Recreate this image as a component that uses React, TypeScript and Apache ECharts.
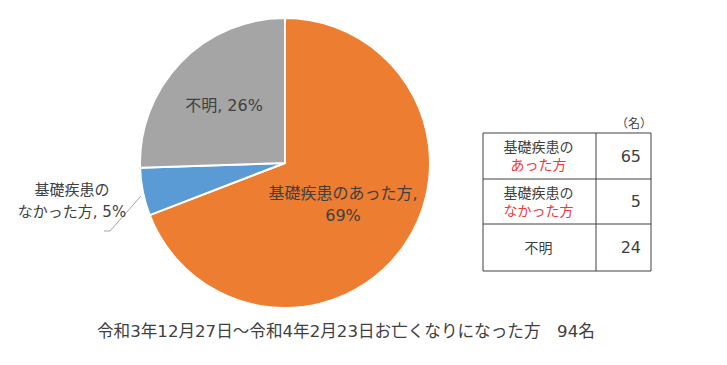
import React, { useEffect, useRef } from "react";
import * as echarts from "echarts";

const categories = ["基礎疾患のあった方", "基礎疾患のなかった方", "不明"];
const values = [65, 5, 24];
const colors = ["#ED7D31", "#5B9BD5", "#A5A5A5"];
const tableLine1 = ["基礎疾患の", "基礎疾患の", "不明"];
const tableLine2 = ["あった方", "なかった方", ""];
const unitLabel = "（名）";
const caption = "令和3年12月27日～令和4年2月23日お亡くなりになった方　94名";

const FONT = "'DejaVu Sans', 'Noto Sans CJK JP', sans-serif";
const TXT = "#404040";

export default function App() {
  const ref = useRef<HTMLDivElement>(null);
  useEffect(() => {
    document.body.style.margin = "0";
    const chart = echarts.init(ref.current!, null, { renderer: "svg" });

    const labelPos = [
      { x: 343, y: 204, size: 16 },
      { x: 72, y: 201, size: 15 },
      { x: 224, y: 105, size: 16 },
    ];

    // table
    const tL = 483, tR = 651, tM = 596, tT = 133;
    const rowYs = [133, 179, 224, 271];
    const graphics: any[] = [];
    const line = (x1: number, y1: number, x2: number, y2: number) => ({
      type: "line",
      shape: { x1, y1, x2, y2 },
      style: { stroke: "#404040", lineWidth: 1 },
    });
    rowYs.forEach((y) => graphics.push(line(tL, y, tR, y)));
    graphics.push(line(tL, tT, tL, rowYs[3]));
    graphics.push(line(tM, tT, tM, rowYs[3]));
    graphics.push(line(tR, tT, tR, rowYs[3]));
    graphics.push({
      type: "text",
      x: 652,
      y: 124,
      style: { text: unitLabel, font: `12px ${FONT}`, fill: TXT, align: "right", verticalAlign: "middle" },
    });
    values.forEach((v, i) => {
      const cy = (rowYs[i] + rowYs[i + 1]) / 2;
      const hasTwo = tableLine2[i] !== "";
      graphics.push({
        type: "text",
        x: (tL + tM) / 2 - 1,
        y: cy,
        style: {
          text: hasTwo ? `{a|${tableLine1[i]}}\n{b|${tableLine2[i]}}` : `{a|${tableLine1[i]}}`,
          align: "center",
          verticalAlign: "middle",
          rich: {
            a: { font: `14px ${FONT}`, fill: TXT, lineHeight: 18 },
            b: { font: `14px ${FONT}`, fill: "#F0383C", lineHeight: 18 },
          },
        },
      });
      graphics.push({
        type: "text",
        x: 641,
        y: cy,
        style: { text: String(v), font: `16px ${FONT}`, fill: TXT, align: "right", verticalAlign: "middle" },
      });
    });
    graphics.push({
      type: "text",
      x: 97,
      y: 331,
      style: {
        text: caption,
        font: `16.6px ${FONT}`,
        fill: TXT,
        align: "left",
        verticalAlign: "middle",
      },
    });

    chart.setOption({
      animation: false,
      backgroundColor: "#fff",
      graphic: graphics,
      series: [
        {
          type: "pie",
          center: [285, 163],
          radius: 145,
          startAngle: 90,
          clockwise: true,
          itemStyle: { borderColor: "#fff", borderWidth: 2 },
          data: categories.map((c, i) => ({
            name: c,
            value: values[i],
            itemStyle: { color: colors[i] },
            label: { fontSize: labelPos[i].size },
          })),
          label: {
            show: true,
            color: TXT,
            fontFamily: FONT,
            fontSize: 15,
            lineHeight: 22,
            align: "center",
            overflow: "none",
            formatter: (p: any) => {
              const pct = Math.round(p.percent) + "%";
              if (p.dataIndex === 0) return `${p.name},\n${pct}`;
              if (p.dataIndex === 1) return `基礎疾患の\nなかった方, ${pct}`;
              return `${p.name}, ${pct}`;
            },
          },
          labelLine: {
            show: true,
            lineStyle: { color: "#A5A5A5", width: 1 },
          },
          labelLayout: (params: any) => {
            const p = labelPos[params.dataIndex];
            const res: any = { x: p.x, y: p.y, align: "center", verticalAlign: "middle", width: 220 };
            if (params.dataIndex === 1) {
              res.labelLinePoints = [
                [141, 196],
                [110, 231],
                [104, 231],
              ];
            }
            return res;
          },
        },
      ],
    });
    return () => chart.dispose();
  }, []);
  return <div ref={ref} style={{ width: 727, height: 365 }} />;
}
